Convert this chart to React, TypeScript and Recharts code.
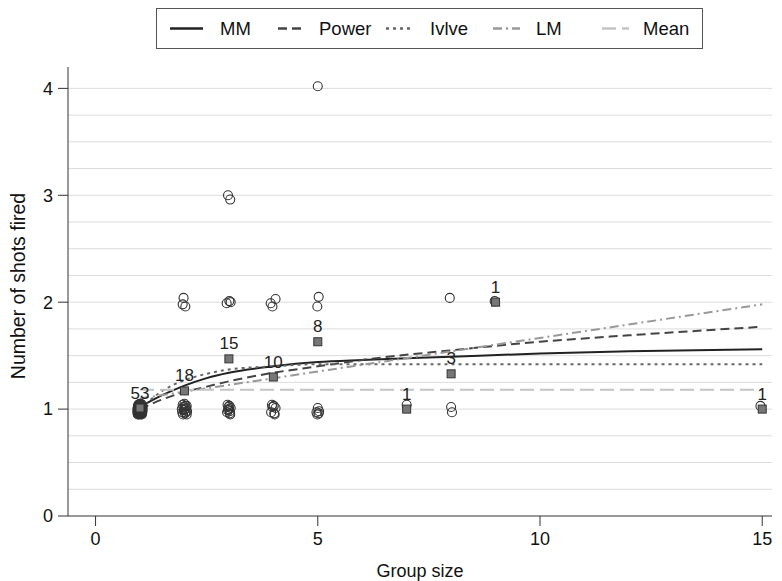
import React from "react";
import {
  ComposedChart,
  Scatter,
  Line,
  XAxis,
  YAxis,
  ReferenceLine,
  LabelList,
} from "recharts";

// group means (filled squares) and number of observations per group
const groupSizes = [1, 2, 3, 4, 5, 7, 8, 9, 15];
const groupCounts = [53, 18, 15, 10, 8, 1, 3, 1, 1];
const groupMeans = [1.01, 1.17, 1.47, 1.3, 1.63, 1.0, 1.33, 2.0, 1.0];

// jittered observations (open circles), [group size, shots]
const obsSize1 = [
  [0.95, 0.97], [0.97, 1.02], [1.0, 0.96], [1.03, 1.01], [1.05, 0.98], [0.96, 1.04], [1.01, 1.03], [1.04, 0.95],
  [0.98, 0.99], [1.02, 0.97], [0.94, 1.0], [1.06, 1.02], [0.99, 1.05], [1.03, 0.96], [0.97, 0.95], [1.01, 0.99],
  [0.95, 1.02], [1.05, 1.04], [0.98, 1.01], [1.02, 1.05], [0.96, 0.98], [1.04, 1.0], [1.0, 1.02], [0.97, 0.97],
  [1.03, 1.03], [0.99, 0.96], [1.01, 1.0], [0.95, 0.95], [1.05, 0.96], [0.98, 1.03], [1.02, 0.98], [0.96, 1.01],
  [1.04, 1.03], [1.0, 0.98], [0.94, 0.97], [1.06, 0.99], [0.99, 1.0], [1.03, 0.98], [0.97, 1.0], [1.01, 0.95],
  [0.95, 0.99], [1.05, 1.01], [0.98, 0.96], [1.02, 1.02], [0.96, 0.96], [1.04, 0.97], [1.0, 1.04], [0.97, 1.04],
  [1.03, 0.99], [0.99, 1.02], [1.01, 0.97], [0.96, 1.03], [1.04, 1.02],
];
const obsSize2 = [
  [1.95, 0.97], [1.98, 1.02], [2.01, 0.96], [2.04, 1.01], [2.06, 0.98], [1.96, 1.04], [2.02, 1.03], [2.05, 0.95],
  [1.99, 0.99], [2.03, 0.97], [1.94, 1.0], [2.0, 1.05], [1.97, 0.95], [2.05, 1.03], [2.01, 1.0],
  [1.98, 2.04], [1.96, 1.98], [2.02, 1.96],
];
const obsSize3 = [
  [2.96, 0.97], [2.99, 1.02], [3.02, 0.96], [3.04, 1.01], [2.97, 1.04], [3.01, 1.03], [3.03, 0.95], [2.98, 0.99],
  [3.02, 0.98], [3.0, 1.0],
  [2.95, 1.99], [3.01, 2.01], [3.04, 2.0], [2.98, 3.0], [3.03, 2.96],
];
const obsSize4 = [
  [3.95, 0.97], [3.98, 1.02], [4.02, 0.96], [4.05, 1.01], [3.97, 1.04], [4.01, 1.03], [4.03, 0.95],
  [3.94, 1.99], [3.98, 1.96], [4.05, 2.03],
];
const obsSize5 = [
  [4.97, 0.97], [5.0, 1.01], [5.02, 0.96], [4.99, 0.95], [5.03, 0.98],
  [5.02, 2.05], [4.99, 1.96], [5.0, 4.02],
];
const obsLarge = [
  [7.0, 1.04],
  [7.97, 2.04], [8.0, 1.02], [8.02, 0.97],
  [8.98, 2.01],
  [14.96, 1.03],
];

// fitted curves, values read at these group sizes
const curveX = [1, 1.5, 2, 2.5, 3, 4, 5, 6, 8, 10, 12, 15];
const mmValues = [1.02, 1.13, 1.22, 1.29, 1.34, 1.4, 1.44, 1.46, 1.49, 1.52, 1.54, 1.56];
const powerValues = [1.0, 1.09, 1.16, 1.21, 1.26, 1.34, 1.4, 1.46, 1.55, 1.63, 1.69, 1.77];
const ivlevValues = [1.0, 1.17, 1.27, 1.33, 1.37, 1.4, 1.42, 1.42, 1.42, 1.42, 1.42, 1.42];
const lmX = [1, 15];
const lmValues = [1.1, 1.98];
const meanX = [1, 15];
const meanValues = [1.18, 1.18];

const gridValues = [0.25, 0.5, 0.75, 1, 1.25, 1.5, 1.75, 2, 2.25, 2.5, 2.75, 3, 3.25, 3.5, 3.75, 4];

const FONT = "'Liberation Sans', Arial, sans-serif";

const toPoints = (pairs: number[][]) => pairs.map(([x, y]) => ({ x, y }));
const observations = toPoints([
  ...obsSize1,
  ...obsSize2,
  ...obsSize3,
  ...obsSize4,
  ...obsSize5,
  ...obsLarge,
]);
const meanPoints = groupSizes.map((x, i) => ({ x, y: groupMeans[i], n: groupCounts[i] }));
const curve = (xs: number[], ys: number[]) => xs.map((x, i) => ({ x, y: ys[i] }));

const series = [
  { name: "MM", data: curve(curveX, mmValues), color: "#222", dash: undefined },
  { name: "Power", data: curve(curveX, powerValues), color: "#444", dash: "9 5" },
  { name: "Ivlve", data: curve(curveX, ivlevValues), color: "#666", dash: "3 4" },
  { name: "LM", data: curve(lmX, lmValues), color: "#999", dash: "9 4 2 4" },
  { name: "Mean", data: curve(meanX, meanValues), color: "#c4c4c4", dash: "14 6" },
];

const OpenCircle = (props: any) => (
  <circle cx={props.cx} cy={props.cy} r={4.5} fill="none" stroke="#333" strokeWidth={1.1} />
);

const MeanSquare = (props: any) => (
  <rect x={props.cx - 4} y={props.cy - 4} width={8} height={8} fill="#777" stroke="#333" strokeWidth={1} />
);

function Overlay() {
  const items = [
    { left: 170, right: 203, text: 220 },
    { left: 278, right: 305, text: 319 },
    { left: 386, right: 414, text: 430 },
    { left: 493, right: 520, text: 536 },
    { left: 602, right: 629, text: 643 },
  ];
  return (
    <svg width={782} height={581} style={{ position: "absolute", left: 0, top: 0, pointerEvents: "none" }}>
      <rect x={156.5} y={8.5} width={546} height={40} fill="#fff" stroke="#555" strokeWidth={1} />
      {series.map((s, i) => (
        <g key={s.name}>
          <line
            x1={items[i].left}
            x2={items[i].right}
            y1={28.5}
            y2={28.5}
            stroke={s.color}
            strokeWidth={2.5}
            strokeDasharray={s.dash}
          />
          <text x={items[i].text} y={28.5} dominantBaseline="central" fontSize={18.5} fontFamily={FONT} fill="#111">
            {s.name}
          </text>
        </g>
      ))}
      <text
        x={18}
        y={286}
        transform="rotate(-90, 18, 286)"
        textAnchor="middle"
        dominantBaseline="central"
        fontSize={19.5}
        fill="#111"
        fontFamily={FONT}
      >
        Number of shots fired
      </text>
    </svg>
  );
}

export default function App() {
  return (
    <div style={{ position: "absolute", left: 0, top: 0, width: 782, height: 581, background: "#fff" }}>
      <ComposedChart
        width={782}
        height={581}
        margin={{ top: 67, right: 10, bottom: 0, left: 0 }}
      >
        <XAxis
          dataKey="x"
          type="number"
          domain={[-0.62, 15.22]}
          ticks={[0, 5, 10, 15]}
          allowDataOverflow
          height={65}
          stroke="#333"
          tickSize={10}
          tickMargin={6}
          tick={{ fontSize: 18, fill: "#111", fontFamily: FONT }}
          label={{ value: "Group size", position: "insideBottom", offset: 4, fontSize: 18, fill: "#111", fontFamily: FONT }}
        />
        <YAxis
          dataKey="y"
          type="number"
          domain={[0, 4.2]}
          ticks={[0, 1, 2, 3, 4]}
          allowDataOverflow
          width={68}
          stroke="#333"
          tickSize={10}
          tickMargin={5}
          tick={{ fontSize: 18, fill: "#111", fontFamily: FONT }}
        />
        {gridValues.map((v) => (
          <ReferenceLine key={v} y={v} stroke="#dcdcdc" strokeWidth={1} />
        ))}
        <Scatter data={observations} shape={OpenCircle} isAnimationActive={false} />
        {series.map((s) => (
          <Line
            key={s.name}
            data={s.data}
            dataKey="y"
            type="monotone"
            stroke={s.color}
            strokeWidth={2}
            strokeDasharray={s.dash}
            dot={false}
            activeDot={false}
            isAnimationActive={false}
          />
        ))}
        <Scatter data={meanPoints} shape={MeanSquare} isAnimationActive={false}>
          <LabelList dataKey="n" position="top" offset={5} fontSize={17} fill="#222" fontFamily={FONT} />
        </Scatter>
      </ComposedChart>
      <Overlay />
    </div>
  );
}
